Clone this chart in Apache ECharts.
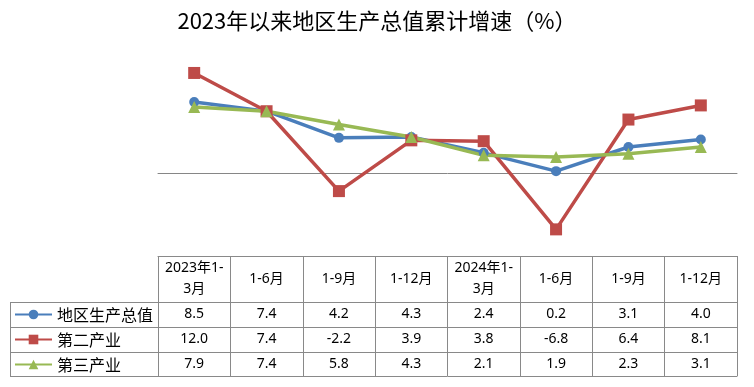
<!DOCTYPE html>
<html><head><meta charset="utf-8">
<script src="https://cdn.jsdelivr.net/npm/echarts@6/dist/echarts.min.js"></script>
<style>html,body{margin:0;padding:0;background:#fff}#c{width:754px;height:387px}</style>
</head><body><div id="c"></div>
<script>
// ---- data ----
const chartTitle = '2023年以来地区生产总值累计增速（%）';
const categories = ['2023年1-\n3月', '1-6月', '1-9月', '1-12月', '2024年1-\n3月', '1-6月', '1-9月', '1-12月'];
const seriesNames = ['地区生产总值', '第二产业', '第三产业'];
const gdp = [8.5, 7.4, 4.2, 4.3, 2.4, 0.2, 3.1, 4.0];
const secondary = [12.0, 7.4, -2.2, 3.9, 3.8, -6.8, 6.4, 8.1];
const tertiary = [7.9, 7.4, 5.8, 4.3, 2.1, 1.9, 2.3, 3.1];
const yMin = -10, yMax = 15;

// ---- layout ----
const W = 754, H = 387;
const gridLeft = 158, gridRight = 17, gridTop = 48, gridBottom = 131;
const headH = 46, rowH = 25, legX = 10;
const tableTop = H - gridBottom;
const lineColor = '#898989';
const colors = ['#4A7EBB', '#BE4B48', '#98B954'];
const tableFont = '"Noto Sans", "Noto Sans CJK SC", sans-serif';
const cjkFont = '"Noto Sans CJK SC", sans-serif';
const rows = [gdp, secondary, tertiary];

const chart = echarts.init(document.getElementById('c'), null, {renderer: 'canvas'});

const xAxes = [
  { // horizontal axis at zero
    type: 'category', data: categories, gridIndex: 0, position: 'bottom',
    axisLine: {show: true, onZero: true, lineStyle: {color: '#868686', width: 1}},
    axisTick: {show: false}, axisLabel: {show: false}, splitLine: {show: false}
  },
  { // table header row
    type: 'category', data: categories, gridIndex: 0, position: 'bottom', offset: 0,
    axisLine: {show: true, onZero: false, lineStyle: {color: lineColor, width: 1}},
    axisTick: {show: true, interval: 0, length: headH + rowH * 3 - 1, lineStyle: {color: lineColor, width: 1}},
    axisLabel: {interval: 0, margin: headH / 2, verticalAlign: 'middle', align: 'center',
      fontSize: 14, lineHeight: 21, color: '#000', fontFamily: tableFont},
    splitLine: {show: false}
  }
];
rows.forEach((vals, r) => {
  xAxes.push({
    type: 'category', data: categories, gridIndex: 0, position: 'bottom', offset: headH + r * rowH,
    axisLine: {show: true, onZero: false, lineStyle: {color: lineColor, width: 1}},
    axisTick: {show: false},
    axisLabel: {interval: 0, margin: rowH / 2, verticalAlign: 'middle', align: 'center',
      fontSize: 14, color: '#000', fontFamily: tableFont,
      formatter: (v, i) => vals[i].toFixed(1)},
    splitLine: {show: false}
  });
});
xAxes.push({
  type: 'category', data: categories, gridIndex: 0, position: 'bottom', offset: headH + 3 * rowH - 1,
  axisLine: {show: true, onZero: false, lineStyle: {color: lineColor, width: 1}},
  axisTick: {show: false}, axisLabel: {show: false}, splitLine: {show: false}
});

// left (legend) column borders
const graphics = [];
graphics.push({type: 'line', silent: true,
  shape: {x1: legX + 0.5, y1: tableTop + headH, x2: legX + 0.5, y2: tableTop + headH + 3 * rowH},
  style: {stroke: lineColor, lineWidth: 1}});
for (let i = 0; i <= 3; i++) {
  const y = tableTop + headH + i * rowH - (i === 3 ? 1 : 0) + 0.5;
  graphics.push({type: 'line', silent: true,
    shape: {x1: legX, y1: y, x2: gridLeft, y2: y},
    style: {stroke: lineColor, lineWidth: 1}});
}

const symbols = ['circle', 'rect', 'triangle'];
const symSizes = [10, 12, 12];

chart.setOption({
  animation: false,
  backgroundColor: '#fff',
  title: {
    text: chartTitle, left: 'center', top: 10, padding: [0, 18, 0, 0],
    textStyle: {fontSize: 22, fontWeight: 'normal', color: '#000', fontFamily: cjkFont}
  },
  legend: {
    orient: 'vertical', left: legX + 4, top: tableTop + headH + 4.5, padding: 0,
    itemWidth: 37, itemHeight: 12, itemGap: 9,
    textStyle: {fontSize: 16, lineHeight: 16, color: '#000', fontFamily: cjkFont},
    data: seriesNames, selectedMode: false
  },
  grid: {left: gridLeft, right: gridRight, top: gridTop, bottom: gridBottom, containLabel: false, outerBoundsMode: 'none'},
  xAxis: xAxes,
  yAxis: {type: 'value', min: yMin, max: yMax, show: false, splitLine: {show: false}},
  graphic: graphics,
  series: rows.map((vals, i) => ({
    name: seriesNames[i], type: 'line', data: vals, xAxisIndex: 0, yAxisIndex: 0,
    symbol: symbols[i], symbolSize: symSizes[i], showAllSymbol: true,
    lineStyle: {width: 3.5, color: colors[i]},
    itemStyle: {color: colors[i]},
    emphasis: {disabled: true}
  }))
});
</script></body></html>
